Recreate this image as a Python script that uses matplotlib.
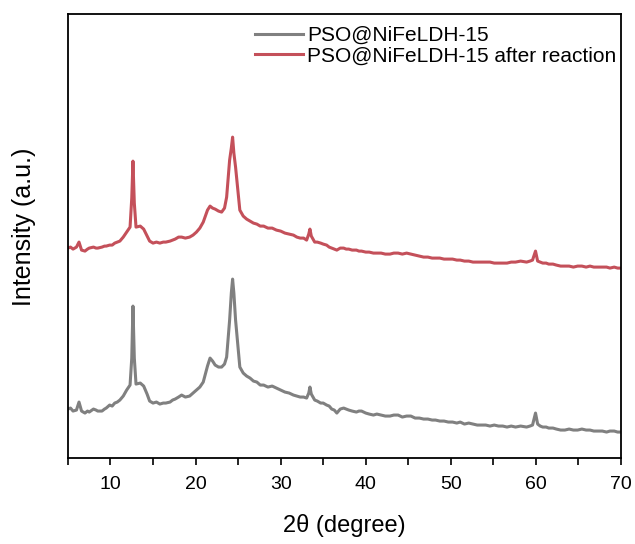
import numpy as np
import matplotlib.pyplot as plt

plt.rcParams['font.family'] = ['Liberation Sans', 'DejaVu Sans']

# 2theta positions
two_theta = [5.0, 5.3, 5.6, 6.0, 6.3, 6.6, 7.0, 7.3, 7.5, 8.0, 8.3, 8.5, 9.0, 9.3, 9.5, 9.9,
             10.2, 10.5, 10.8, 11.1, 11.5, 11.9,
             12.3, 12.5, 12.64, 12.8, 13.0, 13.5, 13.9, 14.3, 14.6, 15.0, 15.4, 15.8, 16.2, 16.5,
             17.0, 17.3, 17.6, 18.0, 18.36, 18.8, 19.3, 19.7, 20.1, 20.5, 20.9, 21.4, 21.7, 22.0,
             22.3, 22.7, 23.06, 23.4, 23.65, 24.0, 24.2, 24.35, 24.5, 24.7, 25.0, 25.2, 25.6, 26.0,
             26.4, 26.8, 27.2, 27.6, 28.0, 28.5, 29.0, 29.5, 30.0, 30.5, 31.0, 31.5, 31.9, 32.3,
             32.7, 33.05, 33.3, 33.44, 33.6, 34.0, 34.3, 34.7, 35.0, 35.4, 35.7, 36.0, 36.3, 36.6,
             37.0, 37.4, 37.7, 38.0, 38.4, 38.9, 39.2, 39.5, 40.0, 40.4, 40.9, 41.3, 41.8, 42.3,
             42.85, 43.3, 43.8, 44.3, 44.8, 45.3, 45.8, 46.3, 46.8, 47.3, 47.8, 48.2, 48.7, 49.2,
             49.7, 50.2, 50.7, 51.1, 51.6, 52.1, 52.6, 53.1, 53.6, 54.1, 54.6, 55.1, 55.6, 56.1,
             56.6, 57.1, 57.6, 58.2, 58.9, 59.3, 59.6, 59.95, 60.2, 60.5, 60.8, 61.2, 61.5, 62.0,
             62.4, 62.9, 63.4, 63.9, 64.4, 64.9, 65.4, 65.9, 66.35, 66.8, 67.3, 67.8, 68.3, 68.7,
             69.2, 69.6, 70.0]

pso = [49, 50, 47, 48, 56, 47, 45, 47, 46, 49, 48, 47, 47, 49, 50, 53,
       52, 55, 56, 58, 62, 68,
       73, 100, 152, 100, 74, 75, 72, 64, 57, 55, 56, 54, 55, 55,
       56, 58, 59, 61, 63, 61, 62, 65, 68, 71, 76, 92, 100, 97,
       93, 91, 91, 94, 101, 138, 165, 179, 165, 138, 110, 91, 85, 82,
       80, 77, 76, 73, 73, 71, 72, 70, 68, 66, 65, 63, 62, 61,
       61, 60, 65, 71, 64, 58, 57, 55, 55, 53, 52, 49, 48, 45,
       49, 50, 49, 48, 47, 46, 47, 47, 45, 44, 43, 44, 43, 42,
       42, 43, 43, 41, 42, 42, 40, 40, 39, 39, 38, 38, 37, 37,
       36, 36, 35, 36, 34, 35, 34, 33, 33, 33, 32, 33, 32, 32,
       31, 32, 31, 32, 31, 32, 33, 45, 34, 32, 31, 31, 30, 30,
       29, 28, 28, 29, 28, 28, 29, 28, 28, 27, 27, 27, 26, 27,
       27, 26, 26]

pso_after = [210, 211, 209, 211, 216, 208, 207, 209, 210, 211, 210, 210, 211, 212, 212, 213,
             213, 215, 216, 217, 221, 226,
             231, 260, 297, 255, 231, 232, 229, 222, 217, 215, 216, 215, 216, 216,
             217, 218, 219, 221, 221, 220, 221, 223, 226, 230, 236, 248, 252, 250,
             249, 247, 246, 250, 261, 298, 310, 321, 305, 291, 265, 248, 242, 239,
             237, 235, 234, 232, 232, 230, 230, 228, 227, 225, 224, 223, 221, 220,
             220, 218, 224, 229, 222, 216, 216, 215, 214, 213, 211, 210, 209, 208,
             210, 210, 209, 209, 208, 208, 207, 207, 206, 206, 205, 205, 205, 204,
             204, 205, 205, 204, 205, 204, 203, 202, 201, 201, 200, 200, 200, 199,
             199, 199, 198, 198, 197, 197, 196, 196, 196, 196, 196, 195, 195, 195,
             195, 196, 196, 197, 196, 197, 198, 207, 197, 196, 195, 195, 194, 194,
             193, 192, 192, 192, 191, 192, 192, 191, 192, 191, 191, 191, 191, 190,
             191, 190, 190]

labels = ['PSO@NiFeLDH-15', 'PSO@NiFeLDH-15 after reaction']

fig = plt.figure(figsize=(6.35, 5.44), dpi=100)
ax = fig.add_axes([0.107, 0.158, 0.871, 0.816])

ax.plot(two_theta, pso, color='#808080', lw=2.2, label=labels[0])
ax.plot(two_theta, pso_after, color='#c4505a', lw=2.2, label=labels[1])

ax.set_xlim(5, 70)
ax.set_ylim(0, 444)
ax.set_xticks([10, 20, 30, 40, 50, 60, 70])
ax.set_xticks([5, 15, 25, 35, 45, 55, 65], minor=True)
ax.set_yticks([])
ax.tick_params(axis='x', which='major', direction='out', length=5, width=1.2, labelsize=14, pad=8)
ax.tick_params(axis='x', which='minor', direction='out', length=5, width=1.2)
for s in ax.spines.values():
    s.set_linewidth(1.3)

ax.set_xlabel('2θ (degree)', fontsize=17, labelpad=15)
ax.set_ylabel('Intensity (a.u.)', fontsize=18)
ax.yaxis.set_label_coords(-0.057, 0.52)

ax.legend(loc='upper right', bbox_to_anchor=(1.026, 1.015), frameon=False, fontsize=15,
          handlelength=2.3, handletextpad=0.2, labelspacing=0.05)

fig.savefig('out.png', dpi=100)
